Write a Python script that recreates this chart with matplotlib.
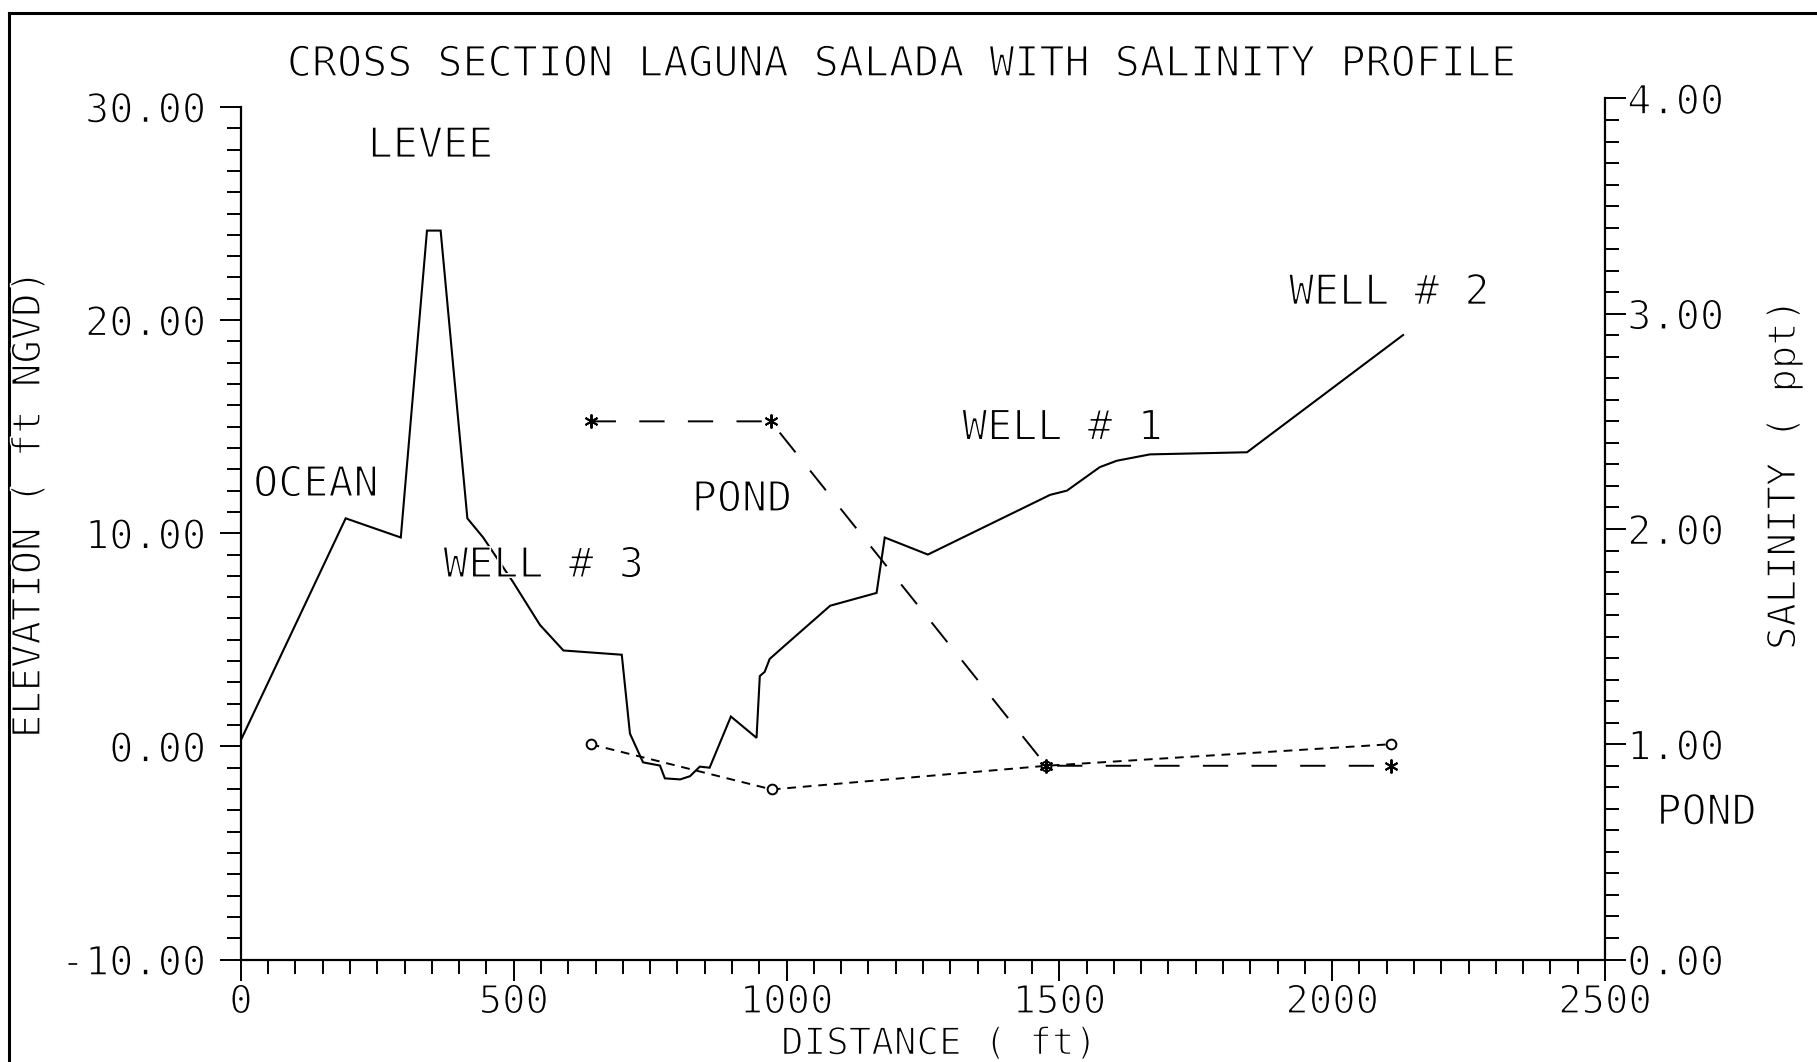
import matplotlib
matplotlib.use("Agg")
import matplotlib.pyplot as plt
import matplotlib.patheffects as pe
from matplotlib.ticker import MultipleLocator, FormatStrFormatter
from matplotlib.lines import Line2D

# ---------------- data ----------------
distance_ft = [0, 192, 293, 341, 366, 415, 444, 499, 548, 591, 698, 713, 737, 768,
               777, 805, 823, 841, 859, 898, 945, 951, 960, 969, 991, 1080, 1165,
               1180, 1259, 1483, 1514, 1574, 1605, 1666, 1844, 2130]
elevation_ft = [0.3, 10.7, 9.8, 24.2, 24.2, 10.7, 9.8, 7.7, 5.7, 4.5, 4.3, 0.6, -0.75,
                -0.9, -1.5, -1.55, -1.4, -0.95, -1.0, 1.4, 0.4, 3.3, 3.5, 4.1, 4.6,
                6.6, 7.2, 9.8, 9.0, 11.8, 12.0, 13.1, 13.4, 13.7, 13.8, 19.3]

sal_a_dist = [641, 973, 1476, 2107]
sal_a_ppt = [1.00, 0.79, 0.90, 1.00]
sal_b_dist = [641, 971, 1476, 2107]
sal_b_ppt = [2.50, 2.50, 0.90, 0.90]

title = "CROSS SECTION LAGUNA SALADA WITH SALINITY PROFILE"
labels = [("LEVEE", 347, 28.2), ("OCEAN", 137, 12.3), ("WELL # 3", 554, 8.5),
          ("POND", 918, 11.6), ("WELL # 1", 1505, 14.95), ("WELL # 2", 2104, 21.3),
          ("POND", 2686, -3.1)]

# ---------------- figure ----------------
FONT = "DejaVu Sans Mono"
plt.rcParams["font.family"] = [FONT, "DejaVu Sans"]
THIN = [pe.Stroke(linewidth=1.1, foreground="white")]  # thins the glyph strokes

fig = plt.figure(figsize=(18.17, 10.62), dpi=100)
fig.patch.set_facecolor("white")
ax = fig.add_axes([0.1326, 0.0965, 0.7507, 0.8108])
ax.set_facecolor("none")

ax.plot(distance_ft, elevation_ft, color="black", lw=1.5, solid_joinstyle="miter")
ax.set_xlim(0, 2500)
ax.set_ylim(-10, 30.4)
ax.spines["left"].set_bounds(-10, 30)
for s in ("top", "right"):
    ax.spines[s].set_visible(False)
for s in ("left", "bottom"):
    ax.spines[s].set_linewidth(1.6)

ax.xaxis.set_major_locator(MultipleLocator(500))
ax.xaxis.set_minor_locator(MultipleLocator(50))
ax.yaxis.set_major_locator(MultipleLocator(10))
ax.yaxis.set_minor_locator(MultipleLocator(1))
ax.yaxis.set_major_formatter(FormatStrFormatter("%.2f"))
ax.tick_params(axis="both", which="major", direction="out", length=15, width=1.4,
               labelsize=29, color="black")
ax.tick_params(axis="both", which="minor", direction="out", length=10, width=1.4)
ax.tick_params(axis="y", pad=10)
ax.tick_params(axis="x", pad=2, labelsize=28)

ax2 = ax.twinx()
ax2.set_ylim(0, 4)
for s in ("top", "left", "bottom"):
    ax2.spines[s].set_visible(False)
ax2.spines["right"].set_linewidth(1.6)
ax2.yaxis.set_major_locator(MultipleLocator(1))
ax2.yaxis.set_minor_locator(MultipleLocator(0.1))
ax2.yaxis.set_major_formatter(FormatStrFormatter("%.2f"))
ax2.tick_params(axis="y", which="major", direction="out", length=15, width=1.4,
                labelsize=29, pad=1)
ax2.tick_params(axis="y", which="minor", direction="out", length=10, width=1.4)

ax2.plot(sal_a_dist, sal_a_ppt, color="black", lw=1.4, dashes=(4.5, 3.5),
         marker="o", markersize=7, markerfacecolor="white", markeredgewidth=1.4)
ax2.plot(sal_b_dist, sal_b_ppt, color="black", lw=1.4, dashes=(13, 12),
         marker=(6, 2, 0), markersize=10, markeredgewidth=1.4)

for txt, xv, yv in labels:
    ax.text(xv, yv, txt, ha="center", va="center", fontsize=30, clip_on=False,
            path_effects=THIN)

fig.text(0.495, 0.9397, title, ha="center", va="center", fontsize=30,
         path_effects=THIN)
fig.text(0.016, 0.525, "ELEVATION ( ft NGVD)", rotation=90, ha="center",
         va="center", fontsize=28, path_effects=THIN)
fig.text(0.982, 0.553, "SALINITY ( ppt)", rotation=90, ha="center",
         va="center", fontsize=28, path_effects=THIN)
fig.text(0.517, 0.0165, "DISTANCE ( ft)", ha="center", va="center", fontsize=27,
         path_effects=THIN)

# page border of the scanned sheet
fig.add_artist(Line2D([0.005, 0.005], [0, 0.988], transform=fig.transFigure,
                      color="black", lw=2.2))
fig.add_artist(Line2D([0.005, 1.0], [0.988, 0.988], transform=fig.transFigure,
                      color="black", lw=2.2))

fig.canvas.draw()
for a in (ax, ax2):
    for lbl in a.get_xticklabels() + a.get_yticklabels():
        lbl.set_path_effects(THIN)

fig.savefig("out.png", dpi=100, facecolor="white")
